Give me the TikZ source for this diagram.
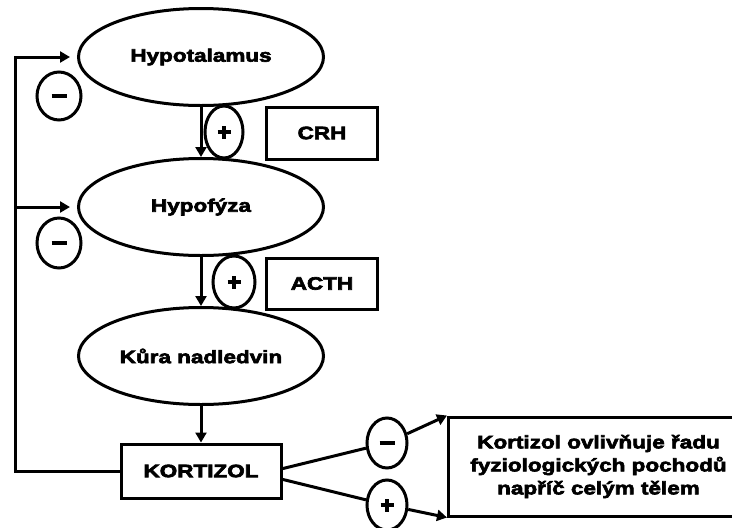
\documentclass[tikz,border=0pt]{standalone}
\usepackage{fontspec}
\setmainfont{Liberation Sans}[BoldFeatures={FakeStretch=1.25,FakeBold=3.5}]
\usetikzlibrary{arrows.meta,shapes.geometric}

\begin{document}
\begin{tikzpicture}[x=1pt,y=-1pt,line width=3pt,
  font=\bfseries\fontsize{18}{23}\selectfont,
  organ/.style={ellipse,draw,minimum width=245pt,minimum height=97pt,inner sep=0pt},
  sign/.style={ellipse,draw,inner sep=0pt,minimum width=40pt,minimum height=50pt},
  plussign/.style={sign,path picture={
      \draw[line width=3.6pt,line cap=butt]
        (path picture bounding box.center) +(-6.5pt,0pt) -- +(6.5pt,0pt)
        (path picture bounding box.center) +(0pt,-6.5pt) -- +(0pt,6.5pt);}},
  minussign/.style={sign,path picture={
      \draw[line width=4pt,line cap=butt]
        (path picture bounding box.center) +(-7.5pt,0pt) -- +(7.5pt,0pt);}},
  tag/.style={rectangle,draw,inner sep=0pt},
  arr/.style={-{Triangle[length=10pt,width=11pt]}},
]
\useasboundingbox (0,0) rectangle (732,528);

% organs of the axis
\node[organ] (hyt)  at (201,57)  {Hypotalamus};
\node[organ] (hyf)  at (201,207) {Hypofýza};
\node[organ] (kura) at (201,356) {Kůra nadledvin};

% hormones
\node[tag,minimum width=111pt,minimum height=52pt] (crh)  at (322,133) {CRH};
\node[tag,minimum width=111pt,minimum height=51pt] (acth) at (322,283.5) {ACTH};
\node[tag,minimum width=160pt,minimum height=54pt] (kort) at (201,471) {KORTIZOL};
\node[tag,anchor=west,minimum width=300pt,minimum height=99pt,align=center]
  (eff) at (447,466.5) {Kortizol ovlivňuje řadu\\fyziologických pochodů\\napříč celým tělem};

% signs
\node[plussign,minimum width=38pt,minimum height=52pt] (p1) at (224,132) {};
\node[plussign,minimum width=42pt,minimum height=52pt] (p2) at (234,282) {};
\node[minussign,minimum width=44pt,minimum height=48pt] (m1) at (59,96)  {};
\node[minussign,minimum width=44pt,minimum height=50pt] (m2) at (59,243) {};
\node[minussign] (m3) at (387,443) {};
\node[plussign] (p3) at (387,505) {};

% stimulation downwards
\draw[arr] (hyt.south) -- (hyf.north);
\draw[arr] (hyf.south) -- (kura.north);
\draw[arr] (kura.south) -- (kort.north);

% negative feedback loop
\coordinate (c1) at (15,57);
\coordinate (c2) at (15,207);
\coordinate (t1) at (70,57);
\coordinate (t2) at (70,207);
\draw[arr] (kort.west) -| (c1) -- (t1);
\draw[arr] (c2) -- (t2);

% effects of cortisol
\coordinate (k1) at (281,469);
\coordinate (k2) at (281,479);
\draw (k1) -- (m3);
\draw[arr] (m3) -- (eff.north west);
\draw (k2) -- (p3);
\draw[arr] (p3) -- (eff.south west);
\end{tikzpicture}
\end{document}
